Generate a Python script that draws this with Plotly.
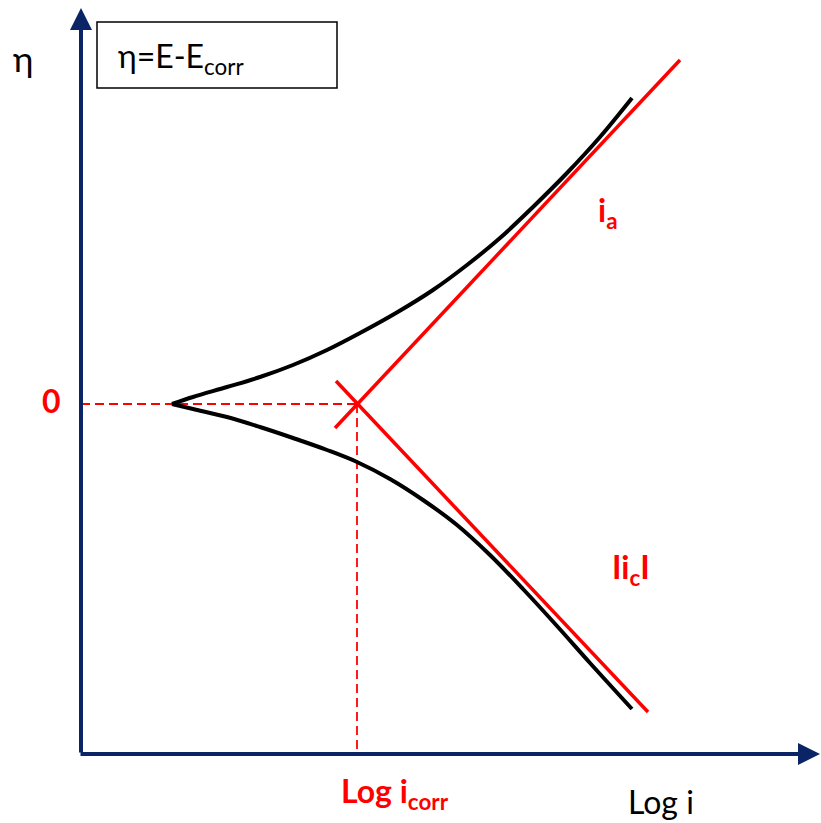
import plotly.graph_objects as go

# Schematic Tafel plot: overpotential eta vs log i (arbitrary units)
# Measured polarisation curve, anodic branch
anodic_logi = [0.91, 1.12, 1.46, 1.79, 2.12, 2.46, 2.79, 3.15, 3.52, 3.86, 4.19, 4.52, 4.86, 5.19, 5.51]
anodic_eta = [0.00, 0.07, 0.17, 0.27, 0.39, 0.54, 0.71, 0.91, 1.14, 1.39, 1.66, 1.97, 2.31, 2.67, 3.06]

# Measured polarisation curve, cathodic branch
cathodic_logi = [0.91, 1.12, 1.46, 1.79, 2.12, 2.46, 2.76, 3.09, 3.42, 3.76, 4.09, 4.42, 4.76, 5.09, 5.51]
cathodic_eta = [0.00, -0.05, -0.13, -0.23, -0.34, -0.46, -0.58, -0.75, -0.96, -1.21, -1.51, -1.85, -2.22, -2.59, -3.05]

# Tafel extrapolations (straight lines, end points)
tafel_a_logi = [2.54, 5.99]
tafel_a_eta = [-0.24, 3.44]
tafel_c_logi = [2.55, 5.67]
tafel_c_eta = [0.23, -3.08]

# Corrosion point and axis extents
log_icorr = 2.76
eta_zero = 0.0
axis_origin = (0.0, -3.50)
y_axis_top = 3.96
x_axis_end = 7.39

NAVY = "#0b2466"
RED = "#ff0000"
FONT = "Lato"

fig = go.Figure()

# dashed guides to the corrosion point
guide = dict(color=RED, width=1.8, dash="9px,5px")
fig.add_trace(go.Scatter(x=[axis_origin[0], log_icorr], y=[eta_zero, eta_zero], mode="lines",
                         line=guide, hoverinfo="skip"))
fig.add_trace(go.Scatter(x=[log_icorr, log_icorr], y=[eta_zero, axis_origin[1]], mode="lines",
                         line=guide, hoverinfo="skip"))

# polarisation curve branches
fig.add_trace(go.Scatter(x=anodic_logi, y=anodic_eta, mode="lines",
                         line=dict(color="black", width=4, shape="spline", smoothing=1.0)))
fig.add_trace(go.Scatter(x=cathodic_logi, y=cathodic_eta, mode="lines",
                         line=dict(color="black", width=4, shape="spline", smoothing=1.0)))

# Tafel lines
fig.add_trace(go.Scatter(x=tafel_a_logi, y=tafel_a_eta, mode="lines", line=dict(color=RED, width=3.5)))
fig.add_trace(go.Scatter(x=tafel_c_logi, y=tafel_c_eta, mode="lines", line=dict(color=RED, width=3.5)))

annotations = [
    # axes with arrow heads
    dict(x=axis_origin[0], y=y_axis_top, ax=axis_origin[0], ay=axis_origin[1],
         xref="x", yref="y", axref="x", ayref="y", showarrow=True, text="",
         arrowhead=2, arrowsize=1.1, arrowwidth=4, arrowcolor=NAVY),
    dict(x=x_axis_end, y=axis_origin[1], ax=axis_origin[0] - 0.02, ay=axis_origin[1],
         xref="x", yref="y", axref="x", ayref="y", showarrow=True, text="",
         arrowhead=2, arrowsize=1.1, arrowwidth=4, arrowcolor=NAVY),
    # labels
    dict(x=-0.58, y=3.46, text="η", showarrow=False, font=dict(family=FONT, size=35, color="black")),
    dict(x=1.00, y=3.46, text="η=E-E<sub>corr</sub>", showarrow=False,
         font=dict(family=FONT, size=32, color="black")),
    dict(x=-0.30, y=0.04, text="<b>0</b>", showarrow=False, font=dict(family=FONT, size=32, color=RED)),
    dict(x=5.27, y=1.92, text="<b>i<sub>a</sub></b>", showarrow=False, font=dict(family=FONT, size=32, color=RED)),
    dict(x=5.50, y=-1.65, text="<b>Ii<sub>c</sub>I</b>", showarrow=False, font=dict(family=FONT, size=32, color=RED)),
    dict(x=3.14, y=-3.89, text="<b>Log i<sub>corr</sub></b>", showarrow=False,
         font=dict(family=FONT, size=32, color=RED)),
    dict(x=5.80, y=-3.97, text="Log i", showarrow=False, font=dict(family=FONT, size=32, color="black")),
]

fig.update_layout(
    width=821, height=823,
    margin=dict(l=0, r=0, t=0, b=0),
    paper_bgcolor="white", plot_bgcolor="white",
    showlegend=False,
    xaxis=dict(range=[-0.81, 7.40], visible=False, fixedrange=True),
    yaxis=dict(range=[-4.19, 4.04], visible=False, fixedrange=True),
    annotations=annotations,
    shapes=[dict(type="rect", xref="x", yref="y", x0=0.16, x1=2.56, y0=3.16, y1=3.82,
                 line=dict(color="black", width=1.5))],
)

fig.write_html("out.html")
